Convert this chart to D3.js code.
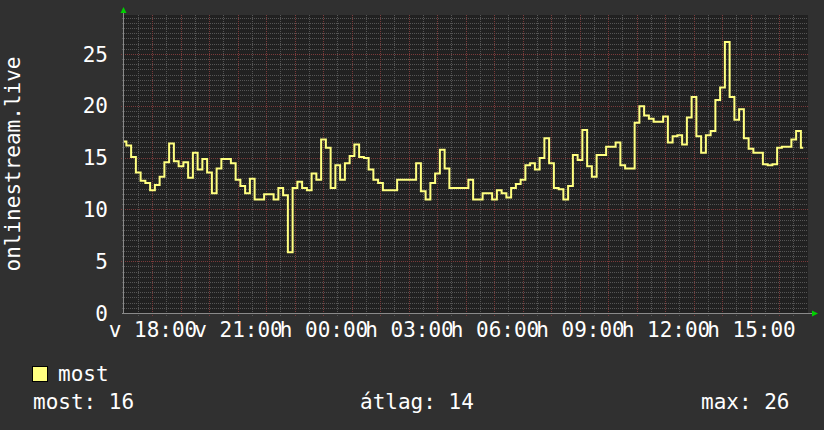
<!DOCTYPE html>
<html>
<head>
<meta charset="utf-8">
<script src="https://cdn.jsdelivr.net/npm/d3@7"></script>
<style>
  html, body { margin: 0; padding: 0; background: #303030; }
  svg { display: block; }
  text { font-family: "DejaVu Sans Mono", monospace; fill: #ffffff; }
</style>
</head>
<body>
<div id="chart"></div>
<script>
// ---------- data ----------
const seriesName = "most";
const axisTitle = "onlinestream.live";
const startHour = 17;          // first sample: Sunday 17:00
const stepMinutes = 10;        // sample spacing
const spanHours = 24;
const values = [
  16.6, 16.2, 15.1, 13.6, 12.8, 12.6, 11.9, 12.4, 13.2, 14.6,
  16.4, 14.7, 14.2, 14.6, 13.1, 15.5, 13.9, 14.9, 13.6, 11.6,
  14.0, 14.9, 14.9, 14.5, 12.9, 12.3, 11.6, 13.0, 11.0, 11.0,
  11.5, 11.5, 11.0, 12.1, 11.4, 5.9, 12.1, 12.7, 12.1, 11.9,
  13.5, 12.9, 16.8, 16.0, 12.1, 14.3, 12.9, 14.5, 15.2, 16.3,
  15.1, 15.0, 13.9, 12.9, 12.6, 11.9, 11.9, 11.9, 12.9, 12.9,
  12.9, 12.9, 14.5, 11.8, 11.0, 12.6, 13.5, 15.8, 14.0, 12.1,
  12.1, 12.1, 12.1, 12.9, 11.0, 11.0, 11.6, 11.6, 11.0, 11.9,
  11.6, 11.2, 12.1, 12.5, 12.9, 14.3, 14.5, 13.9, 15.0, 16.9,
  14.5, 12.1, 12.0, 11.0, 12.3, 15.3, 14.8, 17.7, 14.2, 13.2,
  15.3, 15.3, 16.1, 16.1, 16.5, 14.3, 14.0, 14.0, 18.4, 20.0,
  19.1, 18.8, 18.5, 18.5, 19.0, 16.5, 17.1, 17.2, 16.3, 18.9,
  20.9, 17.1, 15.5, 17.2, 17.6, 20.6, 21.8, 26.2, 20.9, 18.7,
  19.7, 16.9, 15.9, 15.5, 15.5, 14.4, 14.3, 14.4, 16.0, 16.1,
  16.1, 16.8, 17.6, 16.0
];
const yTicks = [0, 5, 10, 15, 20, 25];
const xTickOffsetsH = [1, 4, 7, 10, 13, 16, 19, 22];
const xTickLabels = ["v 18:00", "v 21:00", "h 00:00", "h 03:00", "h 06:00", "h 09:00", "h 12:00", "h 15:00"];
const legendStats = [
  { label: "most", value: "16" },
  { label: "átlag", value: "14" },
  { label: "max", value: "26" }
];

// ---------- layout ----------
const W = 824, H = 430;
const plot = { left: 124, right: 808, top: 15, bottom: 313.5 };
const colors = {
  canvas: "#303030", back: "#212121", minor: "#555555", major: "#7a3a3a",
  axis: "#8a8a8a", arrow: "#00d000", line: "#ffff80", text: "#ffffff"
};

const t0 = new Date(2024, 2, 3, startHour, 0, 0);
const hourMs = 3600 * 1000;
const x = d3.scaleTime()
  .domain([t0, new Date(+t0 + spanHours * hourMs)])
  .range([plot.left, plot.right]);
const y = d3.scaleLinear().domain([0, 28.8]).range([plot.bottom, plot.top]);

const svg = d3.select("#chart").append("svg").attr("width", W).attr("height", H);
svg.append("rect").attr("width", W).attr("height", H).attr("fill", colors.canvas);
svg.append("rect")
  .attr("x", plot.left).attr("y", plot.top)
  .attr("width", plot.right - plot.left).attr("height", plot.bottom - plot.top)
  .attr("fill", colors.back);

const snap = v => Math.round(v - 0.5) + 0.5;
const grid = svg.append("g").attr("shape-rendering", "crispEdges");

// horizontal grid
const hMinor = d3.range(0.5, 28.6, 0.5).filter(v => v % 5 !== 0);
grid.selectAll(".hmin").data(hMinor).join("line")
  .attr("x1", plot.left - 2).attr("x2", plot.right)
  .attr("y1", d => snap(y(d))).attr("y2", d => snap(y(d)))
  .attr("stroke", colors.minor).attr("stroke-dasharray", "1,1");
// vertical grid
const halfHours = d3.range(1, spanHours * 2).map(k => new Date(+t0 + k * hourMs / 2));
grid.selectAll(".vmin").data(halfHours.filter((d, i) => i % 2 === 0)).join("line")
  .attr("x1", d => snap(x(d))).attr("x2", d => snap(x(d)))
  .attr("y1", plot.top).attr("y2", plot.bottom + 2)
  .attr("stroke", colors.minor).attr("stroke-dasharray", "1,1");
grid.selectAll(".vmaj").data(halfHours.filter((d, i) => i % 2 === 1)).join("line")
  .attr("x1", d => snap(x(d))).attr("x2", d => snap(x(d)))
  .attr("y1", plot.top).attr("y2", plot.bottom + 3)
  .attr("stroke", colors.major).attr("stroke-dasharray", "1,1");
grid.selectAll(".hmaj").data(yTicks.filter(v => v > 0)).join("line")
  .attr("x1", plot.left - 3).attr("x2", plot.right)
  .attr("y1", d => snap(y(d))).attr("y2", d => snap(y(d)))
  .attr("stroke", colors.major).attr("stroke-dasharray", "1,1");

// data line (RRD-style steps)
const line = d3.line()
  .x((d, i) => x(new Date(+t0 + i * stepMinutes * 60000)))
  .y(d => y(d))
  .curve(d3.curveStep);
svg.append("path").datum(values)
  .attr("d", line)
  .attr("fill", "none")
  .attr("stroke", colors.line)
  .attr("stroke-width", 2)
  .attr("stroke-linejoin", "miter");

// axes lines
const axisG = svg.append("g").attr("shape-rendering", "crispEdges");
axisG.append("line")
  .attr("x1", plot.left - 0.5).attr("x2", plot.left - 0.5)
  .attr("y1", plot.bottom).attr("y2", 11)
  .attr("stroke", colors.axis);
axisG.append("line")
  .attr("x1", plot.left - 2).attr("x2", 813)
  .attr("y1", snap(y(0))).attr("y2", snap(y(0)))
  .attr("stroke", colors.axis);
// arrows
svg.append("path").attr("d", `M${plot.left - 3.5},${13} L${plot.left - 0.5},${7} L${plot.left + 2.5},${13} Z`)
  .attr("fill", colors.arrow);
svg.append("path").attr("d", `M812,${snap(y(0)) - 3} L818,${snap(y(0))} L812,${snap(y(0)) + 3} Z`)
  .attr("fill", colors.arrow);

// y axis labels via d3 axis
const yAxis = d3.axisLeft(y).tickValues(yTicks).tickSize(0).tickPadding(0).tickFormat(d3.format("d"));
const yG = svg.append("g").attr("transform", `translate(${plot.left - 16},0)`).call(yAxis);
yG.select(".domain").remove();
yG.selectAll("text")
  .attr("fill", colors.text)
  .style("font-family", '"DejaVu Sans Mono", monospace')
  .style("font-size", "21px");

// x axis labels
const xAxis = d3.axisBottom(x)
  .tickValues(xTickOffsetsH.map(h => new Date(+t0 + h * hourMs)))
  .tickFormat((d, i) => xTickLabels[i])
  .tickSize(0).tickPadding(0);
const xG = svg.append("g").attr("transform", `translate(0,${plot.bottom + 9})`).call(xAxis);
xG.select(".domain").remove();
xG.selectAll("text")
  .attr("fill", colors.text)
  .attr("dy", "0.71em")
  .style("font-family", '"DejaVu Sans Mono", monospace')
  .style("font-size", "21px");

// y axis title
svg.append("text")
  .attr("transform", "translate(20,164) rotate(-90)")
  .attr("text-anchor", "middle")
  .style("font-size", "21px")
  .text(axisTitle);

// legend
svg.append("rect").attr("x", 32.5).attr("y", 366.5).attr("width", 15).attr("height", 15)
  .attr("fill", colors.line).attr("stroke", "#000").attr("stroke-width", 1);
svg.append("text").attr("x", 58).attr("y", 381).style("font-size", "21px").text(seriesName);
const statX = [33, 360, 701];
svg.selectAll(".stat").data(legendStats).join("text")
  .attr("x", (d, i) => statX[i]).attr("y", 409)
  .style("font-size", "21px")
  .text(d => `${d.label}: ${d.value}`);
</script>
</body>
</html>
